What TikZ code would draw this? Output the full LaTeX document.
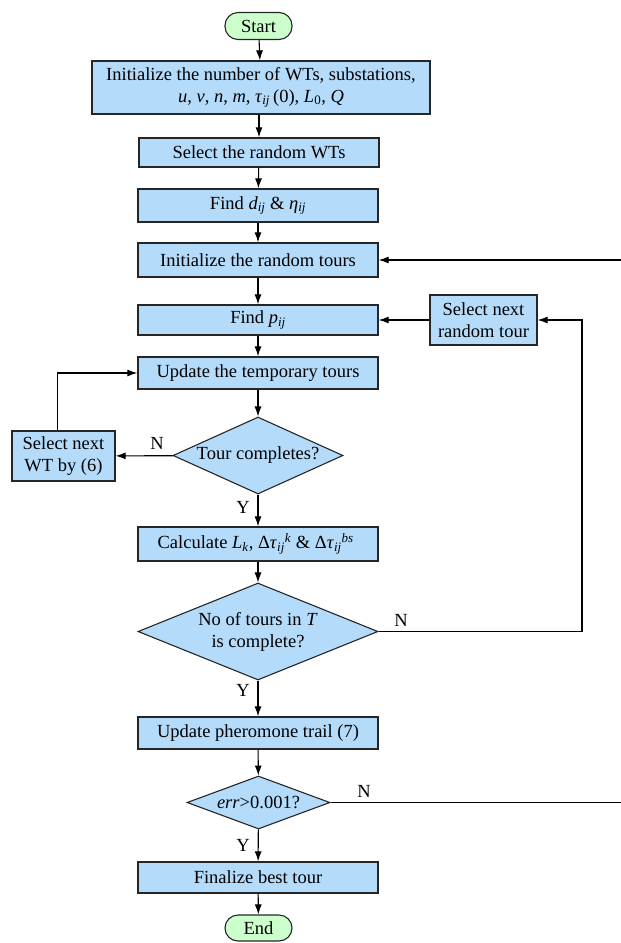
\documentclass[tikz,border=0pt]{standalone}
\usepackage{fontspec}
\setmainfont{Liberation Serif}
\usepackage{tikz}
\usetikzlibrary{shapes, arrows.meta, positioning, calc}
\definecolor{boxblue}{RGB}{180, 219, 250}
\definecolor{termgreen}{RGB}{204, 255, 204}

\tikzset{
  stepbox/.style={draw=black!85, fill=boxblue, line width=1.3pt, minimum width=240pt, minimum height=32pt, inner sep=2pt, align=center},
  termbox/.style={draw=black!85, fill=termgreen, line width=1.1pt, rounded corners=13pt, minimum width=67pt, minimum height=27pt, inner sep=2pt},
  decide/.style={diamond, draw=black!85, fill=boxblue, line width=1.1pt, inner sep=-1pt, align=center},
  flow/.style={-{Latex[length=10pt, width=7pt]}, line width=1.1pt},
  yn/.style={inner sep=0pt}
}

\begin{document}
\begin{tikzpicture}[x=1pt, y=-1pt, font=\fontsize{18.5}{22}\selectfont]
  \useasboundingbox[fill=white] (0,0) rectangle (621,943);

  % Main column
  \node[termbox] (start) at (258.5, 26) {Start};
  \node[stepbox, minimum width=338pt, minimum height=53pt] (init) at (261, 87.5) {
    Initialize the number of WTs, substations,\\
    \textit{u}, \textit{v}, \textit{n}, \textit{m}, \textit{τ}\textsubscript{\textit{ij}}\,(0), \textit{L}\textsubscript{0}, \textit{Q}
  };
  \node[stepbox, minimum height=29pt] (randwt) at (259, 152.5) {Select the random WTs};
  \node[stepbox, minimum height=33pt] (findd) at (258, 205.5) {Find \textit{d}\textsubscript{\textit{ij}} \& \textit{η}\textsubscript{\textit{ij}}};
  \node[stepbox, minimum height=34pt] (inittours) at (258, 260) {Initialize the random tours};
  \node[stepbox, minimum height=30pt] (findp) at (258, 320) {Find \textit{p}\textsubscript{\textit{ij}}};
  \node[stepbox] (update) at (258, 373) {Update the temporary tours};
  \node[decide, aspect=2.2, minimum width=170pt, minimum height=77pt] (tourdone) at (258, 455.5) {Tour completes?};
  \node[stepbox, minimum height=34pt] (calc) at (258, 544) {
    Calculate \textit{L}\textsubscript{\textit{k}}, Δ\textit{τ}\textsubscript{\textit{ij}}\textsuperscript{\textit{k}} \& Δ\textit{τ}\textsubscript{\textit{ij}}\textsuperscript{\textit{bs}}
  };
  \node[decide, aspect=2.5, minimum width=240pt, minimum height=97pt] (alldone) at (258, 631.5) {No of tours in \textit{T}\\is complete?};
  \node[stepbox] (trail) at (258, 733) {Update pheromone trail (7)};
  \node[decide, aspect=2.7, minimum width=143pt, minimum height=53pt] (errtest) at (258.5, 802.5) {\textit{err}>0.001?};
  \node[stepbox, minimum height=31pt] (final) at (258, 877.5) {Finalize best tour};
  \node[termbox, minimum height=26pt] (finish) at (258.5, 928) {End};

  % Side boxes
  \node[stepbox, minimum width=107pt, minimum height=50pt, inner sep=1pt] (nexttour) at (483.5, 320) {Select next\\random tour};
  \node[stepbox, minimum width=103pt, minimum height=50pt, inner sep=1pt] (nextwt) at (63.5, 456) {Select next\\WT by (6)};

  % Bends
  \coordinate (bendA) at (582, 320);
  \coordinate (bendB) at (624, 260);

  % Labels
  \node[yn] (tourN) at (157, 443) {N};
  \node[yn] (tourY) at (243, 507) {Y};
  \node[yn] (allN) at (401, 620) {N};
  \node[yn] (allY) at (243, 690) {Y};
  \node[yn] (errN) at (364, 791) {N};
  \node[yn] (errY) at (243, 845) {Y};

  % Arrows
  \draw[flow] (start) -- (init);
  \draw[flow] (init.south -| randwt.north) -- (randwt.north);
  \draw[flow] (randwt) -- (findd);
  \draw[flow] (findd) -- (inittours);
  \draw[flow] (inittours) -- (findp);
  \draw[flow] (findp) -- (update);
  \draw[flow] (update) -- (tourdone);
  \draw[flow] (tourdone) -- (calc);
  \draw[flow] (tourdone) -- (nextwt);
  \draw[flow] ([xshift=-6pt]nextwt.north) |- (update.west);
  \draw[flow] (calc) -- (alldone);
  \draw[flow] (alldone.east) -| (bendA) -- (nexttour.east);
  \draw[flow] (nexttour) -- (findp);
  \draw[flow] (alldone) -- (trail);
  \draw[flow] (trail) -- (errtest);
  \draw[flow] (errtest.east) -| (bendB) -- (inittours.east);
  \draw[flow] (errtest) -- (final);
  \draw[flow] (final) -- (finish);
\end{tikzpicture}
\end{document}
